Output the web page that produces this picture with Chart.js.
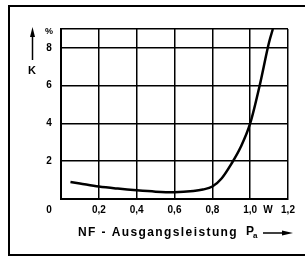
<!DOCTYPE html>
<html>
<head>
<meta charset="utf-8">
<script src="https://cdn.jsdelivr.net/npm/chart.js@4/dist/chart.umd.min.js"></script>
<style>
html,body{margin:0;padding:0;background:#fff;}
#wrap{width:305px;height:258px;position:relative;}
</style>
</head>
<body>
<div id="wrap"><canvas id="c" width="305" height="258"></canvas></div>
<script>
// Data
const powerW = [0.05, 0.1, 0.2, 0.3, 0.4, 0.5, 0.6, 0.7, 0.75, 0.8, 0.85, 0.9, 0.95, 1.0, 1.05, 1.1, 1.12];
const distortionK = [0.9, 0.82, 0.66, 0.55, 0.46, 0.39, 0.36, 0.42, 0.5, 0.66, 1.1, 1.85, 2.75, 4.0, 6.0, 8.3, 9.0];
const xTickValues = [0.2, 0.4, 0.6, 0.8, 1.0, 1.2];
const xTickLabels = ['0,2', '0,4', '0,6', '0,8', '1,0', '1,2'];
const yTickValues = [2, 4, 6, 8];
const yTickLabels = ['2', '4', '6', '8'];
const xUnit = 'W';
const yUnit = '%';
const yName = 'K';
const xTitle = 'NF - Ausgangsleistung';

const FONT = 'bold 10px "Liberation Sans", Arial, sans-serif';

const decor = {
  id: 'decor',
  beforeDraw(chart) {
    const ctx = chart.ctx;
    ctx.save();
    ctx.fillStyle = '#fff';
    ctx.fillRect(0, 0, chart.width, chart.height);
    ctx.strokeStyle = '#000';
    ctx.lineWidth = 2;
    ctx.beginPath();
    ctx.moveTo(310, 6);
    ctx.lineTo(9, 6);
    ctx.lineTo(9, 255);
    ctx.lineTo(310, 255);
    ctx.stroke();
    ctx.restore();
  },
  afterDraw(chart) {
    const ctx = chart.ctx;
    const xs = chart.scales.x, ys = chart.scales.y;
    ctx.save();
    ctx.fillStyle = '#000';
    ctx.font = FONT;
    ctx.textAlign = 'center';
    ctx.textBaseline = 'middle';
    const ty = ys.getPixelForValue(0) + 11;
    xTickValues.forEach((v, i) => ctx.fillText(xTickLabels[i], xs.getPixelForValue(v), ty));
    ctx.fillText('0', xs.left - 12, ty);
    ctx.fillText(xUnit, xs.getPixelForValue(1.1) - 1, ty);
    yTickValues.forEach((v, i) => ctx.fillText(yTickLabels[i], xs.left - 12, ys.getPixelForValue(v)));
    ctx.font = 'bold 9px "Liberation Sans", Arial, sans-serif';
    ctx.fillText(yUnit, xs.left - 12, ys.getPixelForValue(9) + 3);
    ctx.font = 'bold 11px "Liberation Sans", Arial, sans-serif';
    ctx.fillText(yName, 32, 71);
    // upward arrow
    ctx.strokeStyle = '#000';
    ctx.lineWidth = 1.5;
    ctx.beginPath();
    ctx.moveTo(32.5, 60);
    ctx.lineTo(32.5, 34);
    ctx.stroke();
    ctx.beginPath();
    ctx.moveTo(32.5, 27);
    ctx.lineTo(35, 37);
    ctx.lineTo(30, 37);
    ctx.closePath();
    ctx.fill();
    // x title
    ctx.font = 'bold 12px "Liberation Sans", Arial, sans-serif';
    ctx.textAlign = 'left';
    ctx.letterSpacing = '1.4px';
    ctx.fillText(xTitle, 78, 233);
    ctx.letterSpacing = '0px';
    ctx.fillText('P', 246, 232);
    ctx.font = 'bold 8px "Liberation Sans", Arial, sans-serif';
    ctx.fillText('a', 253, 236);
    // right arrow
    ctx.lineWidth = 1.5;
    ctx.beginPath();
    ctx.moveTo(263, 233);
    ctx.lineTo(286, 233);
    ctx.stroke();
    ctx.beginPath();
    ctx.moveTo(293, 233);
    ctx.lineTo(282, 230.5);
    ctx.lineTo(282, 235.5);
    ctx.closePath();
    ctx.fill();
    ctx.restore();
  }
};

new Chart(document.getElementById('c'), {
  type: 'line',
  data: {
    datasets: [{
      data: powerW.map((x, i) => ({x: x, y: distortionK[i]})),
      borderColor: '#000',
      borderWidth: 2.5,
      pointRadius: 0,
      fill: false,
      cubicInterpolationMode: 'monotone'
    }]
  },
  options: {
    responsive: false,
    animation: false,
    devicePixelRatio: 1,
    layout: {padding: {left: 61, right: 17, top: 29, bottom: 59}},
    plugins: {legend: {display: false}, tooltip: {enabled: false}},
    scales: {
      x: {
        type: 'linear', min: 0, max: 1.2,
        ticks: {display: false, stepSize: 0.2},
        grid: {color: '#000', lineWidth: 1.5, drawTicks: false},
        border: {color: '#000', width: 2}
      },
      y: {
        type: 'linear', min: 0, max: 9,
        ticks: {display: false, stepSize: 2},
        grid: {color: '#000', lineWidth: 1.5, drawTicks: false},
        border: {color: '#000', width: 2}
      }
    }
  },
  plugins: [decor]
});
</script>
</body>
</html>
